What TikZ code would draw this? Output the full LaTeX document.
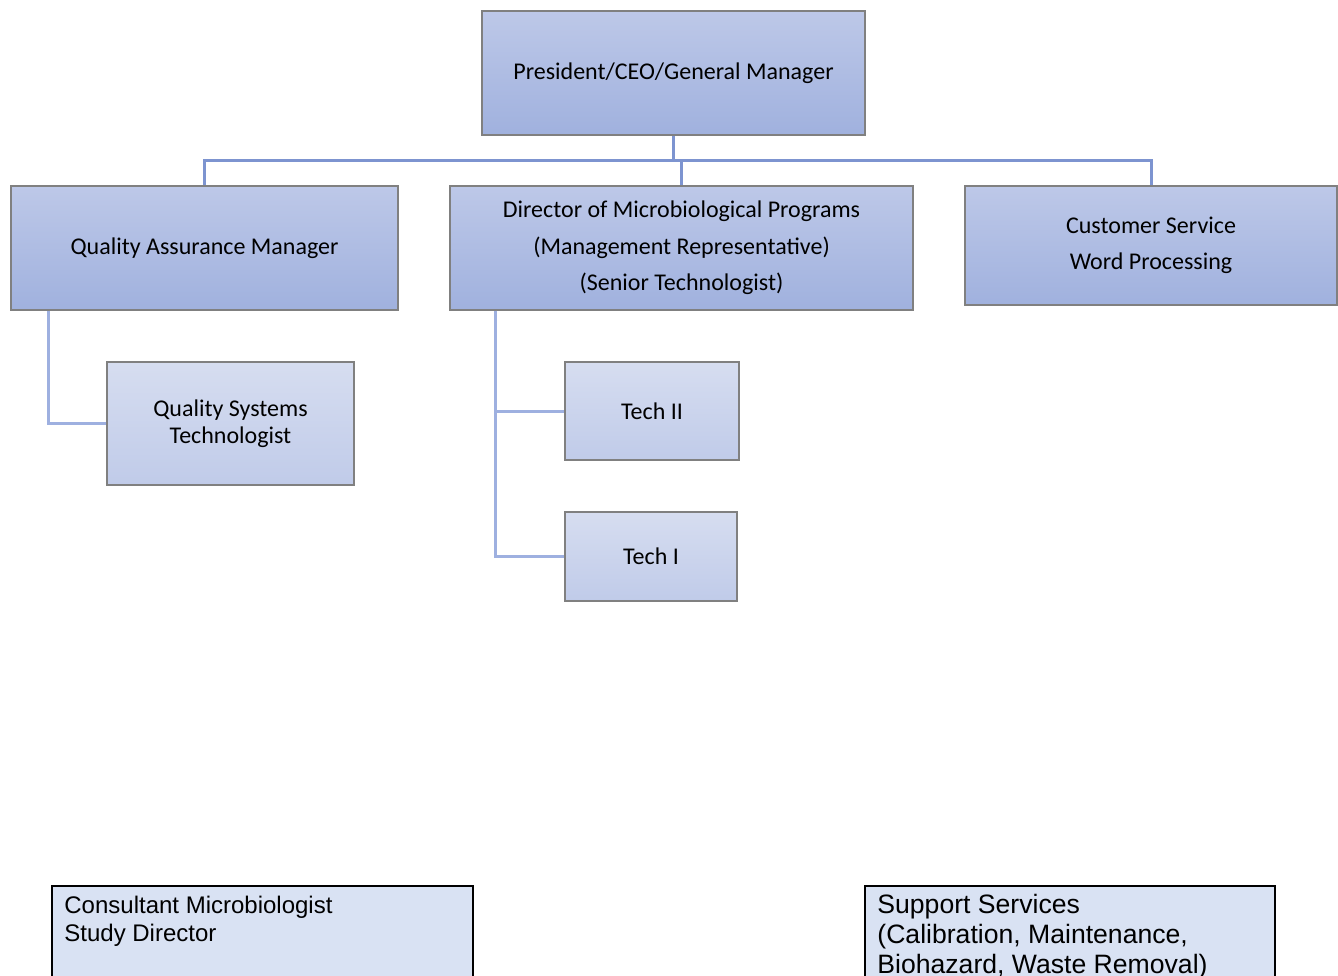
\documentclass[tikz,border=0pt]{standalone}
\usepackage{fontspec}
\setmainfont{Carlito}
\newfontfamily\arialfont{Liberation Sans}

\definecolor{linkblue}{RGB}{125,148,208}
\definecolor{sublinkblue}{RGB}{158,176,224}
\definecolor{boxtop}{RGB}{189,200,232}
\definecolor{boxbot}{RGB}{160,177,222}
\definecolor{subtop}{RGB}{214,221,240}
\definecolor{subbot}{RGB}{192,203,233}
\definecolor{notefill}{RGB}{217,226,243}

\tikzset{
  unit/.style={draw=black!50, line width=0.6pt, top color=boxtop, bottom color=boxbot,
    align=center, inner sep=0pt, font=\fontsize{12}{18.25}\selectfont},
  subunit/.style={unit, top color=subtop, bottom color=subbot},
  link/.style={draw=linkblue, line width=1.5pt},
  sublink/.style={draw=sublinkblue, line width=1.5pt},
  notebox/.style={draw=black, line width=1pt, fill=notefill, anchor=north west},
  notetext/.style={align=left, inner sep=0pt, anchor=north west},
}

\begin{document}
\begin{tikzpicture}[x=0.5pt,y=-0.5pt]
  \useasboundingbox (0,0) rectangle (1338,975);
  \clip (0,0) rectangle (1338,975);

  \node[unit, minimum width=191.5pt, minimum height=62pt] (ceo) at (673.5,73) {President/CEO/General Manager};
  \node[unit, minimum width=193.5pt, minimum height=62pt] (qam) at (204.5,248) {Quality Assurance Manager};
  \node[unit, minimum width=231.5pt, minimum height=62pt] (dir) at (681.5,248)
    {Director of Microbiological Programs\\(Management Representative)\\(Senior Technologist)};
  \node[unit, minimum width=186pt, minimum height=59.5pt] (cust) at (1151,245.5) {Customer Service\\Word Processing};
  \node[subunit, minimum width=123.5pt, minimum height=61.5pt, font=\fontsize{12}{13.5}\selectfont] (qst) at (230.5,423.5)
    {Quality Systems\\Technologist};
  \node[subunit, minimum width=87pt, minimum height=49pt] (tech2) at (652,411) {Tech II};
  \node[subunit, minimum width=86pt, minimum height=44.5pt] (tech1) at (651,556.5) {Tech I};

  \coordinate (bar) at (673.5,160);
  \draw[link] (ceo.south) -- (bar);
  \draw[link] (qam.north) |- (bar) -| (cust.north);
  \draw[link] (dir.north) -- (dir.north |- bar);

  \coordinate (qa-trunk) at ([xshift=19pt]qam.south west);
  \coordinate (dir-trunk) at ([xshift=23pt]dir.south west);
  \draw[sublink] (qa-trunk) |- (qst.west);
  \draw[sublink] (dir-trunk) |- (tech2.west);
  \draw[sublink] (dir-trunk) |- (tech1.west);

  \node[notebox, minimum width=210.5pt, minimum height=60pt] (consult) at (51,885) {};
  \node[notetext, font=\arialfont\fontsize{12}{14}\selectfont] (consult-text) at ([xshift=6.5pt,yshift=-5.5pt]consult.north west)
    {Consultant Microbiologist\\Study Director};
  \node[notebox, minimum width=205pt, minimum height=60pt] (support) at (864,885) {};
  \node[notetext, font=\arialfont\fontsize{13.3}{15}\selectfont] (support-text) at ([xshift=6.5pt,yshift=-4.5pt]support.north west)
    {Support Services\\(Calibration, Maintenance,\\Biohazard, Waste Removal)};
\end{tikzpicture}
\end{document}
